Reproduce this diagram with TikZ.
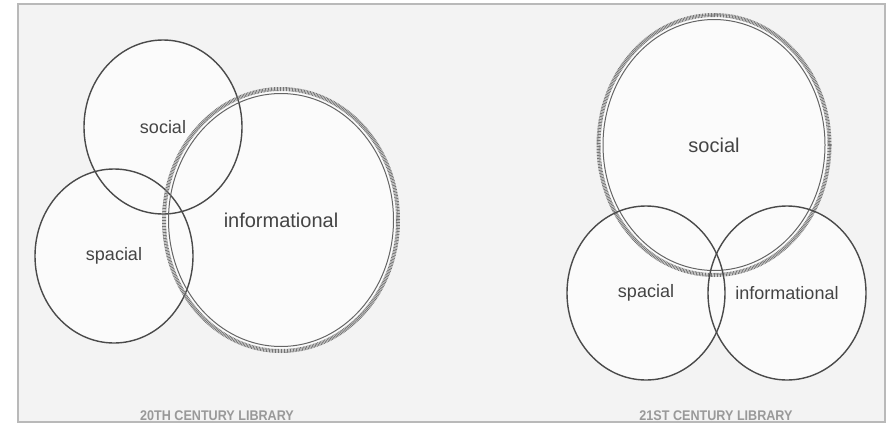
\documentclass[tikz,border=0pt]{standalone}
\usepackage{fontspec}
\setmainfont{Liberation Sans}
\newfontfamily\capfont[FakeStretch=0.9]{Liberation Sans Bold}
\usetikzlibrary{shapes.geometric, backgrounds}
\definecolor{panel}{HTML}{F3F3F3}
\definecolor{bubble}{HTML}{FBFBFB}
\definecolor{ink}{HTML}{4A4A4A}
\definecolor{label}{HTML}{444444}
\tikzstyle{sphere} = [ellipse, draw=ink, line width=1.4pt, minimum width=158pt, minimum height=174pt, inner sep=0pt, text=label, font=\fontsize{18}{18}\selectfont]
\tikzstyle{ring} = [ellipse, draw=gray!90!black, line width=4pt, dash pattern=on 0.8pt off 0.7pt, inner sep=0pt, text=label, font=\fontsize{20}{20}\selectfont]
\tikzstyle{innerring} = [ellipse, draw=ink!85, line width=1pt, inner sep=0pt]
\tikzstyle{caption} = [text=gray!80, font=\capfont\fontsize{14}{14}\selectfont]

\begin{document}
\begin{tikzpicture}[x=1pt, y=-1pt]
		\useasboundingbox (0,0) rectangle (886,426);

		% 20th century
		\node (social20) [sphere] at (163,127) {social};
		\node (spacial20) [sphere] at (114,256) {spacial};
		\node (info20) [ring, minimum width=234pt, minimum height=262pt] at (281,220) {informational};
		\node (info20in) [innerring, minimum width=225pt, minimum height=253pt] at (info20) {};
		\node (cap20) [caption] at (217,416) {20TH CENTURY LIBRARY};

		% 21st century
		\node (social21) [ring, minimum width=231pt, minimum height=260pt] at (714,145) {social};
		\node (social21in) [innerring, minimum width=222pt, minimum height=251pt] at (social21) {};
		\node (spacial21) [sphere] at (646,293) {spacial};
		\node (info21) [sphere] at (787,293) {informational};
		\node (cap21) [caption] at (716,416) {21ST CENTURY LIBRARY};

		\begin{scope}[on background layer]
			\draw [gray!55, line width=1.2pt, fill=panel] (18,4) rectangle (885,422);
			\foreach \n/\rx/\ry in {social20/79/87, spacial20/79/87, info20/117/131, social21/116/130, spacial21/79/87, info21/79/87}
				\fill [bubble] (\n) ellipse [x radius=\rx, y radius=\ry];
		\end{scope}
	\end{tikzpicture}
\end{document}
